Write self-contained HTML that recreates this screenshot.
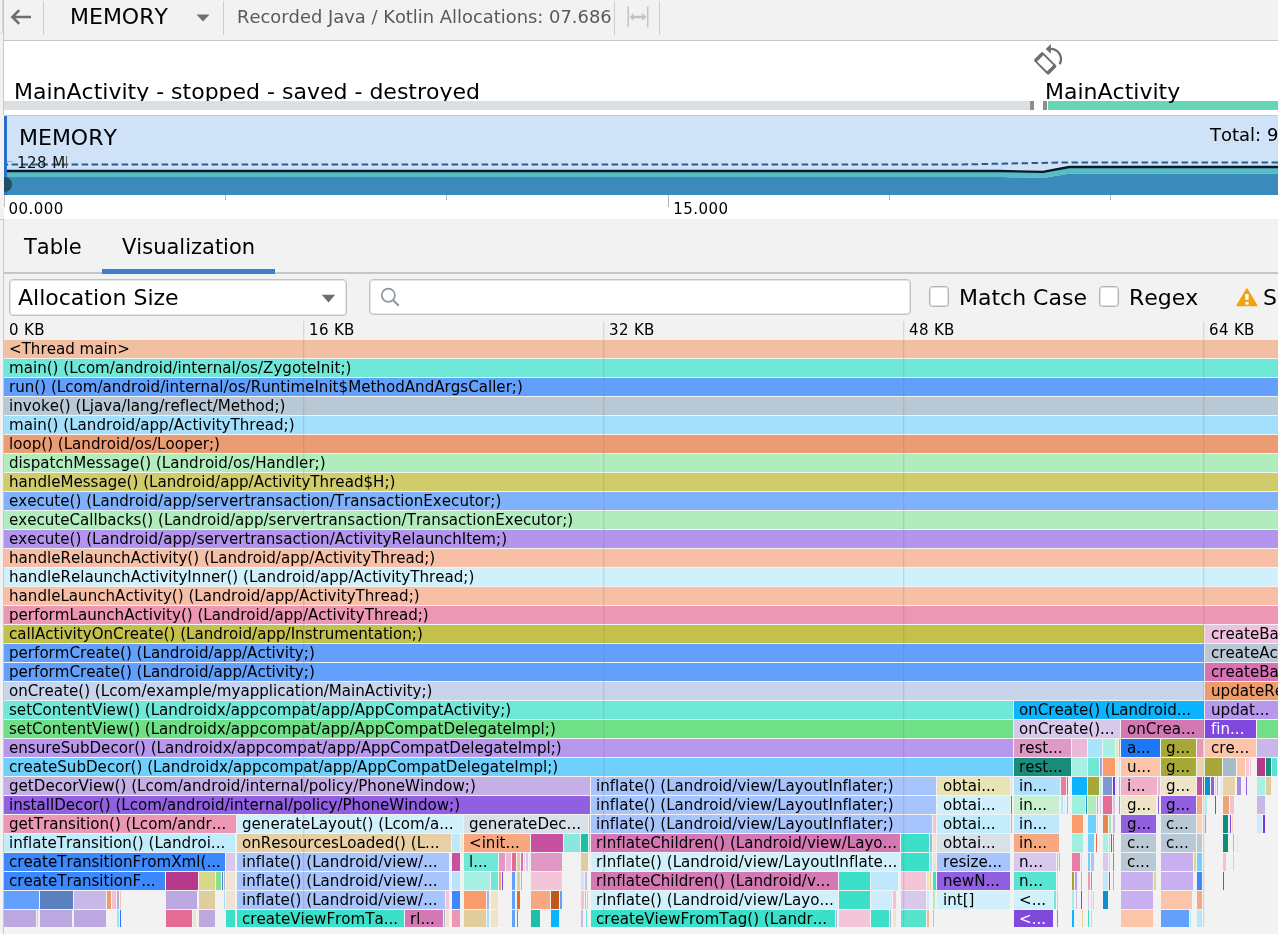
<!DOCTYPE html>
<html><head><meta charset="utf-8"><title>Memory Profiler</title>
<style>
html,body{margin:0;padding:0;}
body{width:1278px;height:934px;overflow:hidden;background:#f2f2f2;position:relative;font-family:"DejaVu Sans","Liberation Sans",sans-serif;color:#000;font-kerning:none;font-variant-ligatures:none;}
.a{position:absolute;}
.t{position:absolute;white-space:nowrap;line-height:1;}
.f22{font-size:22px;}
.f18{font-size:18px;}
.f15{font-size:15px;letter-spacing:0.35px;}
#flame{position:absolute;left:0;top:340px;width:1278px;height:587px;overflow:hidden;}
.b{position:absolute;height:18px;overflow:hidden;white-space:nowrap;font-size:15.1px;line-height:18px;box-sizing:border-box;padding-left:5px;}
.g{position:absolute;top:321px;width:2px;height:606px;background:linear-gradient(to right,rgba(120,120,120,0.22) 50%,rgba(120,120,120,0.07) 50%);}
.m{position:absolute;top:321px;width:1px;height:1px;background:#d8d8d8;}
</style></head><body>

<!-- left gutter -->
<div class="a" style="left:0;top:0;width:4px;height:934px;background:#f2f2f2"></div>
<div class="a" style="left:-2px;top:-4px;width:3px;height:36px;border:1px solid #d4d4d4;border-radius:3px;"></div>
<div class="a" style="left:3px;top:0;width:1px;height:115px;background:#c8c8c8"></div>
<div class="a" style="left:3px;top:219px;width:1px;height:715px;background:#c8c8c8"></div>
<div class="a" style="left:0;top:219px;width:3px;height:1px;background:#cccccc"></div>
<!-- toolbar -->
<div class="a" style="left:4px;top:40px;width:1274px;height:1px;background:#c6c6c6"></div>
<svg class="a" style="left:10px;top:8px" width="24" height="18" viewBox="0 0 24 18"><path d="M21 9H3.5M9.2 2.2L2.4 9l6.8 6.8" fill="none" stroke="#6e6e6e" stroke-width="2.6" stroke-linejoin="miter"/></svg>
<div class="a" style="left:43px;top:1px;width:1px;height:34px;background:#cdcdcd"></div>
<div class="t f22" style="left:70px;top:6px;">MEMORY</div>
<svg class="a" style="left:196px;top:14px" width="14" height="8" viewBox="0 0 14 8"><path d="M0.5 0.5h13L7 7.5z" fill="#6e6e6e"/></svg>
<div class="a" style="left:223px;top:1px;width:1px;height:34px;background:#cdcdcd"></div>
<div class="t" style="font-size:17.9px;left:237px;top:8px;color:#595959">Recorded Java / Kotlin Allocations: 07.686</div>
<div class="a" style="left:614px;top:1px;width:1px;height:34px;background:#cdcdcd"></div>
<svg class="a" style="left:626px;top:6px" width="24" height="22" viewBox="0 0 24 22"><path d="M2.2 0.3v21M21.7 0.3v21" stroke="#c6c6c6" stroke-width="1.6" fill="none"/><path d="M6 11h12" stroke="#c2c2c2" stroke-width="2.6" fill="none"/><path d="M3.8 11l3.9-4v8zM20.3 11l-3.9-4v8z" fill="#c2c2c2"/></svg>
<div class="a" style="left:659px;top:1px;width:1px;height:34px;background:#cdcdcd"></div>
<!-- activity strip -->
<div class="a" style="left:4px;top:41px;width:1274px;height:74px;background:#fff"></div>
<div class="t f22" style="left:14px;top:81px;">MainActivity - stopped - saved - destroyed</div>
<div class="a" style="left:4px;top:101px;width:1026px;height:9px;background:#dcdfe2"></div>
<div class="a" style="left:1030px;top:101px;width:4px;height:9px;background:#8e8e8e"></div>
<div class="a" style="left:1043px;top:101px;width:4px;height:9px;background:#8e8e8e"></div>
<div class="a" style="left:1048px;top:101px;width:230px;height:9px;background:#66d5b6"></div>
<div class="t f22" style="left:1045px;top:81px;">MainActivity</div>
<svg class="a" style="left:1030px;top:42px" width="36" height="36" viewBox="0 0 36 36"><g transform="translate(15.2 21.3) rotate(-45)"><path fill-rule="evenodd" fill="#6e6e6e" d="M-6.3 -8.7a1.8 1.8 0 0 1 1.8-1.8h9a1.8 1.8 0 0 1 1.8 1.8v17.4a1.8 1.8 0 0 1-1.8 1.8h-9a1.8 1.8 0 0 1-1.8-1.8zM-4.4 -7h8.8v14h-8.8z"/></g><path d="M20.7 6.9A10.3 10.3 0 0 1 29.6 22.3" fill="none" stroke="#6e6e6e" stroke-width="2.3"/><path d="M15.7 6.9l5.2-4.8v9.6z" fill="#6e6e6e"/></svg>
<!-- memory chart -->
<div class="a" style="left:4px;top:115px;width:1274px;height:1px;background:#c8c8c8"></div>
<div class="a" style="left:4px;top:116px;width:1274px;height:79px;background:#cfe2f7"></div>
<svg class="a" style="left:4px;top:116px" width="1274" height="79" viewBox="4 116 1274 79">
<path d="M4 177H1000L1043 178L1069 173.8H1278V195H4z" fill="#3a8abb"/>
<path d="M4 171H1000L1043 172L1069 167.5H1278V173.8H1069L1043 178L1000 177H4z" fill="#58bcc4"/>
<path d="M4 171H1000L1043 171.8L1069 167H1278" fill="none" stroke="#06182c" stroke-width="2.3"/>
<path d="M1.6 164.5H960L1066 162.4H1278" fill="none" stroke="#22608a" stroke-width="2" stroke-dasharray="6.5 3.5"/>
<rect x="4" y="116" width="3" height="79" fill="#2a70c8"/>
<circle cx="4.6" cy="184.4" r="7.5" fill="#1e4f66"/>
<path d="M7 161.5h6" stroke="#a4acb4" stroke-width="1"/>
<path d="M66.5 156v12" stroke="#6b5a50" stroke-width="1"/>
</svg>
<div class="t f22" style="left:19px;top:127px;">MEMORY</div>
<div class="t f15" style="left:17px;top:156px;letter-spacing:0.45px;color:#111">128 M</div>
<div class="t f18" style="left:1210px;top:126px;">Total: 9</div>
<!-- time axis -->
<div class="a" style="left:4px;top:195px;width:1274px;height:24px;background:#fff"></div>
<div class="a" style="left:4px;top:195px;width:1px;height:12px;background:#c0c0c0"></div>
<div class="a" style="left:225px;top:195px;width:1px;height:5px;background:#b4b4b4"></div>
<div class="a" style="left:446px;top:195px;width:1px;height:5px;background:#b4b4b4"></div>
<div class="a" style="left:668px;top:195px;width:1px;height:12px;background:#b4b4b4"></div>
<div class="a" style="left:889px;top:195px;width:1px;height:5px;background:#b4b4b4"></div>
<div class="a" style="left:1110px;top:195px;width:1px;height:5px;background:#b4b4b4"></div>
<div class="t f15" style="left:8.6px;top:202px;letter-spacing:0.45px;">00.000</div>
<div class="t f15" style="left:673.2px;top:202px;letter-spacing:0.45px;">15.000</div>
<!-- tabs -->
<div class="t" style="font-size:21px;left:24px;top:237px;">Table</div>
<div class="t" style="font-size:21px;left:122px;top:237px;">Visualization</div>
<div class="a" style="left:4px;top:272px;width:1274px;height:2px;background:#c6c6c6"></div>
<div class="a" style="left:102px;top:269px;width:173px;height:5px;background:#3d7fcf"></div>
<!-- filter row -->
<div class="a" style="left:9px;top:279px;width:336px;height:35px;background:#fff;border:1px solid #c2c2c2;box-shadow:inset 0 0 0 1px rgba(190,190,190,0.4);border-radius:4px;"></div>
<div class="t f22" style="left:18px;top:287px;">Allocation Size</div>
<svg class="a" style="left:321px;top:294px" width="15" height="9" viewBox="0 0 15 9"><path d="M0.8 0.8h13.4L7.5 8.4z" fill="#6e6e6e"/></svg>
<div class="a" style="left:369px;top:279px;width:540px;height:34px;background:#fff;border:1px solid #c2c2c2;box-shadow:inset 0 0 0 1px rgba(190,190,190,0.4);border-radius:4px;"></div>
<svg class="a" style="left:379px;top:286px" width="22" height="22" viewBox="0 0 22 22"><circle cx="9.3" cy="9.3" r="6.6" fill="none" stroke="#8b9aa2" stroke-width="1.7"/><path d="M14.2 14.2l5.6 5.6" stroke="#8b9aa2" stroke-width="2.2"/></svg>
<div class="a" style="left:929px;top:286px;width:18px;height:19px;background:#fff;border:1px solid #b2b2b2;box-shadow:inset 0 0 0 1px rgba(170,170,170,0.35);border-radius:3.5px;"></div>
<div class="t f22" style="left:959px;top:287px;">Match Case</div>
<div class="a" style="left:1099px;top:286px;width:18px;height:19px;background:#fff;border:1px solid #b2b2b2;box-shadow:inset 0 0 0 1px rgba(170,170,170,0.35);border-radius:3.5px;"></div>
<div class="t f22" style="left:1129px;top:287px;">Regex</div>
<svg class="a" style="left:1235px;top:287px" width="24" height="21" viewBox="0 0 24 21"><path d="M11.9 1.8L21.9 18.6H1.9z" fill="#f0a30c" stroke="#f0a30c" stroke-width="1.2" stroke-linejoin="round"/><rect x="10.3" y="7" width="3.3" height="5.8" fill="#fff"/><rect x="10.3" y="14.9" width="3.3" height="2.7" fill="#fff"/></svg>
<div class="t f22" style="left:1263px;top:287px;">S</div>
<!-- size axis -->
<div class="t f15" style="left:9px;top:323px;">0 KB</div>
<div class="t f15" style="left:309px;top:323px;">16 KB</div>
<div class="t f15" style="left:609px;top:323px;">32 KB</div>
<div class="t f15" style="left:909px;top:323px;">48 KB</div>
<div class="t f15" style="left:1209px;top:323px;">64 KB</div>

<div id="flame">
<div class="b" style="left:4px;top:0px;width:1274px;background:#f2bfa2;">&lt;Thread main&gt;</div>
<div class="b" style="left:4px;top:19px;width:1274px;background:#70e8d8;">main() (Lcom/android/internal/os/ZygoteInit;)</div>
<div class="b" style="left:4px;top:38px;width:1274px;background:#62a0fc;">run() (Lcom/android/internal/os/RuntimeInit$MethodAndArgsCaller;)</div>
<div class="b" style="left:4px;top:57px;width:1274px;background:#b8c8d4;">invoke() (Ljava/lang/reflect/Method;)</div>
<div class="b" style="left:4px;top:76px;width:1274px;background:#a4e0fc;">main() (Landroid/app/ActivityThread;)</div>
<div class="b" style="left:4px;top:95px;width:1274px;background:#ec9c74;">loop() (Landroid/os/Looper;)</div>
<div class="b" style="left:4px;top:114px;width:1274px;background:#b0ecbc;">dispatchMessage() (Landroid/os/Handler;)</div>
<div class="b" style="left:4px;top:133px;width:1274px;background:#d0cc6c;">handleMessage() (Landroid/app/ActivityThread$H;)</div>
<div class="b" style="left:4px;top:152px;width:1274px;background:#80b2fc;">execute() (Landroid/app/servertransaction/TransactionExecutor;)</div>
<div class="b" style="left:4px;top:171px;width:1274px;background:#b0ecbc;">executeCallbacks() (Landroid/app/servertransaction/TransactionExecutor;)</div>
<div class="b" style="left:4px;top:190px;width:1274px;background:#b494ec;">execute() (Landroid/app/servertransaction/ActivityRelaunchItem;)</div>
<div class="b" style="left:4px;top:209px;width:1274px;background:#f6bfa6;">handleRelaunchActivity() (Landroid/app/ActivityThread;)</div>
<div class="b" style="left:4px;top:228px;width:1274px;background:#d0f0fc;">handleRelaunchActivityInner() (Landroid/app/ActivityThread;)</div>
<div class="b" style="left:4px;top:247px;width:1274px;background:#f6bfa6;">handleLaunchActivity() (Landroid/app/ActivityThread;)</div>
<div class="b" style="left:4px;top:266px;width:1274px;background:#ec98b4;">performLaunchActivity() (Landroid/app/ActivityThread;)</div>
<div class="b" style="left:4px;top:285px;width:1200px;background:#c4c04c;">callActivityOnCreate() (Landroid/app/Instrumentation;)</div>
<div class="b" style="left:1205px;top:285px;width:73px;background:#efc0df;padding-left:6px;">createBa</div>
<div class="b" style="left:4px;top:304px;width:1200px;background:#62a0fc;">performCreate() (Landroid/app/Activity;)</div>
<div class="b" style="left:1205px;top:304px;width:73px;background:#b8c8d4;padding-left:6px;">createAct</div>
<div class="b" style="left:4px;top:323px;width:1200px;background:#62a0fc;">performCreate() (Landroid/app/Activity;)</div>
<div class="b" style="left:1205px;top:323px;width:73px;background:#d872b4;padding-left:6px;">createBa</div>
<div class="b" style="left:4px;top:342px;width:1200px;background:#c8d4ec;">onCreate() (Lcom/example/myapplication/MainActivity;)</div>
<div class="b" style="left:1205px;top:342px;width:73px;background:#ee9c6c;padding-left:6px;">updateRe</div>
<div class="b" style="left:4px;top:361px;width:1009px;background:#70e8d8;">setContentView() (Landroidx/appcompat/app/AppCompatActivity;)</div>
<div class="b" style="left:1014px;top:361px;width:190px;background:#0bb4fc;">onCreate() (Landroid...</div>
<div class="b" style="left:1205px;top:361px;width:73px;background:#b898ec;padding-left:6px;">updat...</div>
<div class="b" style="left:4px;top:380px;width:1009px;background:#70e088;">setContentView() (Landroidx/appcompat/app/AppCompatDelegateImpl;)</div>
<div class="b" style="left:1014px;top:380px;width:106px;background:#d8c8ec;">onCreate()...</div>
<div class="b" style="left:1121px;top:380px;width:83px;background:#d478b4;padding-left:6px;">onCrea...</div>
<div class="b" style="left:1205px;top:380px;width:51px;background:#8048dc;color:#fff;padding-left:6px;">fin...</div>
<div class="b" style="left:1257px;top:380px;width:21px;background:#70e088;padding:0;"></div>
<div class="b" style="left:4px;top:399px;width:1009px;background:#b898ec;">ensureSubDecor() (Landroidx/appcompat/app/AppCompatDelegateImpl;)</div>
<div class="b" style="left:1014px;top:399px;width:57px;background:#e098c4;">rest...</div>
<div class="b" style="left:1072px;top:399px;width:15px;background:#ecb8d8;padding:0;"></div>
<div class="b" style="left:1088px;top:399px;width:14px;background:#a8e4fc;padding:0;"></div>
<div class="b" style="left:1103px;top:399px;width:12px;background:#a8f0e4;padding:0;"></div>
<div class="b" style="left:1116px;top:399px;width:2px;background:#e8e4b4;padding:0;"></div>
<div class="b" style="left:1119px;top:399px;width:1px;background:#f0a47c;padding:0;"></div>
<div class="b" style="left:1121px;top:399px;width:39px;background:#1c78f4;padding-left:6px;">a...</div>
<div class="b" style="left:1161px;top:399px;width:35px;background:#a8a838;">g...</div>
<div class="b" style="left:1197px;top:399px;width:6px;background:#ec98b4;padding:0;"></div>
<div class="b" style="left:1205px;top:399px;width:51px;background:#fcc4a8;padding-left:6px;">cre...</div>
<div class="b" style="left:1257px;top:399px;width:21px;background:#c8b8e8;padding:0;"></div>
<div class="b" style="left:4px;top:418px;width:1009px;background:#70d0fc;">createSubDecor() (Landroidx/appcompat/app/AppCompatDelegateImpl;)</div>
<div class="b" style="left:1014px;top:418px;width:57px;background:#1a8c7c;">rest...</div>
<div class="b" style="left:1072px;top:418px;width:15px;background:#a8f0e4;padding:0;"></div>
<div class="b" style="left:1088px;top:418px;width:11px;background:#70e8d4;padding:0;"></div>
<div class="b" style="left:1100px;top:418px;width:2px;background:#b898ec;padding:0;"></div>
<div class="b" style="left:1103px;top:418px;width:12px;background:#f89c6c;padding:0;"></div>
<div class="b" style="left:1116px;top:418px;width:2px;background:#f0e8c8;padding:0;"></div>
<div class="b" style="left:1119px;top:418px;width:1px;background:#c0e8fc;padding:0;"></div>
<div class="b" style="left:1121px;top:418px;width:39px;background:#fcc4a8;padding-left:6px;">u...</div>
<div class="b" style="left:1161px;top:418px;width:35px;background:#a8a838;">g...</div>
<div class="b" style="left:1197px;top:418px;width:6px;background:#e8d4a8;padding:0;"></div>
<div class="b" style="left:1205px;top:418px;width:17px;background:#a8a838;padding:0;"></div>
<div class="b" style="left:1223px;top:418px;width:13px;background:#a8bcc8;padding:0;"></div>
<div class="b" style="left:1237px;top:418px;width:8px;background:#fcc4a8;padding:0;"></div>
<div class="b" style="left:1246px;top:418px;width:3px;background:#f4c8d8;padding:0;"></div>
<div class="b" style="left:1250px;top:418px;width:1px;background:#f4c0d4;padding:0;"></div>
<div class="b" style="left:1257px;top:418px;width:8px;background:#b8388c;padding:0;"></div>
<div class="b" style="left:1266px;top:418px;width:5px;background:#1a8c7c;padding:0;"></div>
<div class="b" style="left:1272px;top:418px;width:5px;background:#58e4d0;padding:0;"></div>
<div class="b" style="left:4px;top:437px;width:586px;background:#c4b0e4;">getDecorView() (Lcom/android/internal/policy/PhoneWindow;)</div>
<div class="b" style="left:591px;top:437px;width:345px;background:#a8c4fc;">inflate() (Landroid/view/LayoutInflater;)</div>
<div class="b" style="left:937px;top:437px;width:73px;background:#e8e4b4;padding-left:6px;">obtai...</div>
<div class="b" style="left:1011px;top:437px;width:1px;background:#dcdcec;padding:0;"></div>
<div class="b" style="left:1014px;top:437px;width:46px;background:#b0e0fc;">in...</div>
<div class="b" style="left:1061px;top:437px;width:5px;background:#e87ca4;padding:0;"></div>
<div class="b" style="left:1067px;top:437px;width:1px;background:#0bb4fc;padding:0;"></div>
<div class="b" style="left:1072px;top:437px;width:15px;background:#0bb4fc;padding:0;"></div>
<div class="b" style="left:1088px;top:437px;width:11px;background:#a8a838;padding:0;"></div>
<div class="b" style="left:1100px;top:437px;width:1px;background:#a8f0e4;padding:0;"></div>
<div class="b" style="left:1103px;top:437px;width:9px;background:#8098d0;padding:0;"></div>
<div class="b" style="left:1113px;top:437px;width:2px;background:#7038dc;padding:0;"></div>
<div class="b" style="left:1116px;top:437px;width:1px;background:#e0e0e8;padding:0;"></div>
<div class="b" style="left:1119px;top:437px;width:1px;background:#f0a47c;padding:0;"></div>
<div class="b" style="left:1121px;top:437px;width:36px;background:#f0b0c8;padding-left:6px;">i...</div>
<div class="b" style="left:1158px;top:437px;width:2px;background:#ecb8d8;padding:0;"></div>
<div class="b" style="left:1161px;top:437px;width:35px;background:#f0e4c8;">g...</div>
<div class="b" style="left:1197px;top:437px;width:5px;background:#c850a0;padding:0;"></div>
<div class="b" style="left:1203px;top:437px;width:1px;background:#c05818;padding:0;"></div>
<div class="b" style="left:1205px;top:437px;width:5px;background:#0c90d0;padding:0;"></div>
<div class="b" style="left:1211px;top:437px;width:3px;background:#9060e0;padding:0;"></div>
<div class="b" style="left:1215px;top:437px;width:1px;background:#fcd0b8;padding:0;"></div>
<div class="b" style="left:1217px;top:437px;width:1px;background:#a8b4d8;padding:0;"></div>
<div class="b" style="left:1221px;top:437px;width:1px;background:#c8ecfc;padding:0;"></div>
<div class="b" style="left:1223px;top:437px;width:12px;background:#e4d4a8;padding:0;"></div>
<div class="b" style="left:1237px;top:437px;width:4px;background:#a88cdc;padding:0;"></div>
<div class="b" style="left:1246px;top:437px;width:1px;background:#9060e0;padding:0;"></div>
<div class="b" style="left:1257px;top:437px;width:8px;background:#a8f0e4;padding:0;"></div>
<div class="b" style="left:1266px;top:437px;width:5px;background:#e0cc9c;padding:0;"></div>
<div class="b" style="left:4px;top:456px;width:586px;background:#9060e0;">installDecor() (Lcom/android/internal/policy/PhoneWindow;)</div>
<div class="b" style="left:591px;top:456px;width:345px;background:#a8c4fc;">inflate() (Landroid/view/LayoutInflater;)</div>
<div class="b" style="left:937px;top:456px;width:73px;background:#d0f0fc;padding-left:6px;">obtai...</div>
<div class="b" style="left:1011px;top:456px;width:1px;background:#9060e0;padding:0;"></div>
<div class="b" style="left:1014px;top:456px;width:45px;background:#c8f0d0;">in...</div>
<div class="b" style="left:1061px;top:456px;width:2px;background:#b8e4fc;padding:0;"></div>
<div class="b" style="left:1064px;top:456px;width:1px;background:#d8ecfc;padding:0;"></div>
<div class="b" style="left:1067px;top:456px;width:1px;background:#f0a47c;padding:0;"></div>
<div class="b" style="left:1072px;top:456px;width:13px;background:#a0f0e0;padding:0;"></div>
<div class="b" style="left:1086px;top:456px;width:1px;background:#1c98c8;padding:0;"></div>
<div class="b" style="left:1088px;top:456px;width:8px;background:#b0ecbc;padding:0;"></div>
<div class="b" style="left:1097px;top:456px;width:1px;background:#ec98b4;padding:0;"></div>
<div class="b" style="left:1100px;top:456px;width:1px;background:#d8c8ec;padding:0;"></div>
<div class="b" style="left:1103px;top:456px;width:9px;background:#e46c94;padding:0;"></div>
<div class="b" style="left:1113px;top:456px;width:2px;background:#d8c8ec;padding:0;"></div>
<div class="b" style="left:1119px;top:456px;width:1px;background:#3cd8b8;padding:0;"></div>
<div class="b" style="left:1121px;top:456px;width:35px;background:#f0e4c8;padding-left:6px;">g...</div>
<div class="b" style="left:1158px;top:456px;width:1px;background:#9060e0;padding:0;"></div>
<div class="b" style="left:1161px;top:456px;width:35px;background:#9060e0;">g...</div>
<div class="b" style="left:1197px;top:456px;width:5px;background:#f8a880;padding:0;"></div>
<div class="b" style="left:1205px;top:456px;width:2px;background:#a8f0e4;padding:0;"></div>
<div class="b" style="left:1215px;top:456px;width:1px;background:#8048dc;padding:0;"></div>
<div class="b" style="left:1223px;top:456px;width:6px;background:#eca478;padding:0;"></div>
<div class="b" style="left:1230px;top:456px;width:4px;background:#f4c0d4;padding:0;"></div>
<div class="b" style="left:1257px;top:456px;width:8px;background:#c8b8e8;padding:0;"></div>
<div class="b" style="left:4px;top:475px;width:232px;background:#ec98b4;">getTransition() (Lcom/andr...</div>
<div class="b" style="left:237px;top:475px;width:226px;background:#d0f0fc;">generateLayout() (Lcom/a...</div>
<div class="b" style="left:464px;top:475px;width:124px;background:#d8e0e8;">generateDec...</div>
<div class="b" style="left:589px;top:475px;width:1px;background:#d4c864;padding:0;"></div>
<div class="b" style="left:591px;top:475px;width:341px;background:#a8c4fc;">inflate() (Landroid/view/LayoutInflater;)</div>
<div class="b" style="left:933px;top:475px;width:3px;background:#f4c0d4;padding:0;"></div>
<div class="b" style="left:937px;top:475px;width:73px;background:#c0ecfc;padding-left:6px;">obtai...</div>
<div class="b" style="left:1011px;top:475px;width:1px;background:#f0a47c;padding:0;"></div>
<div class="b" style="left:1014px;top:475px;width:45px;background:#c0e8fc;">in...</div>
<div class="b" style="left:1072px;top:475px;width:11px;background:#f89c6c;padding:0;"></div>
<div class="b" style="left:1088px;top:475px;width:8px;background:#70d0fc;padding:0;"></div>
<div class="b" style="left:1097px;top:475px;width:1px;background:#d8e0e8;padding:0;"></div>
<div class="b" style="left:1103px;top:475px;width:5px;background:#e88450;padding:0;"></div>
<div class="b" style="left:1109px;top:475px;width:2px;background:#a0e8a8;padding:0;"></div>
<div class="b" style="left:1113px;top:475px;width:2px;background:#c8b8e8;padding:0;"></div>
<div class="b" style="left:1121px;top:475px;width:35px;background:#9060e0;padding-left:6px;">g...</div>
<div class="b" style="left:1161px;top:475px;width:35px;background:#b8c8d4;">c...</div>
<div class="b" style="left:1197px;top:475px;width:5px;background:#fcd0b8;padding:0;"></div>
<div class="b" style="left:1205px;top:475px;width:1px;background:#74a8f8;padding:0;"></div>
<div class="b" style="left:1223px;top:475px;width:5px;background:#108c7c;padding:0;"></div>
<div class="b" style="left:1230px;top:475px;width:1px;background:#8048dc;padding:0;"></div>
<div class="b" style="left:1232px;top:475px;width:1px;background:#fcd0b8;padding:0;"></div>
<div class="b" style="left:1257px;top:475px;width:5px;background:#c8ecfc;padding:0;"></div>
<div class="b" style="left:1263px;top:475px;width:2px;background:#7038dc;padding:0;"></div>
<div class="b" style="left:4px;top:494px;width:231px;background:#c0ecfc;">inflateTransition() (Landroi...</div>
<div class="b" style="left:237px;top:494px;width:214px;background:#e8d0a4;">onResourcesLoaded() (L...</div>
<div class="b" style="left:452px;top:494px;width:8px;background:#c0e8fc;padding:0;"></div>
<div class="b" style="left:461px;top:494px;width:2px;background:#f0e4c8;padding:0;"></div>
<div class="b" style="left:464px;top:494px;width:66px;background:#f8a880;">&lt;init...</div>
<div class="b" style="left:531px;top:494px;width:32px;background:#c850a0;padding:0;"></div>
<div class="b" style="left:564px;top:494px;width:16px;background:#88e8dc;padding:0;"></div>
<div class="b" style="left:581px;top:494px;width:7px;background:#1cc0a8;padding:0;"></div>
<div class="b" style="left:589px;top:494px;width:1px;background:#d4c864;padding:0;"></div>
<div class="b" style="left:591px;top:494px;width:309px;background:#d478b4;">rInflateChildren() (Landroid/view/Layo...</div>
<div class="b" style="left:901px;top:494px;width:28px;background:#3ce0c8;padding:0;"></div>
<div class="b" style="left:930px;top:494px;width:2px;background:#a8b4d8;padding:0;"></div>
<div class="b" style="left:933px;top:494px;width:3px;background:#f0e4c8;padding:0;"></div>
<div class="b" style="left:937px;top:494px;width:73px;background:#d8e0e8;padding-left:6px;">obtai...</div>
<div class="b" style="left:1014px;top:494px;width:45px;background:#f8a880;">in...</div>
<div class="b" style="left:1072px;top:494px;width:11px;background:#a0f0e0;padding:0;"></div>
<div class="b" style="left:1088px;top:494px;width:6px;background:#70d0fc;padding:0;"></div>
<div class="b" style="left:1096px;top:494px;width:1px;background:#e07040;padding:0;"></div>
<div class="b" style="left:1103px;top:494px;width:5px;background:#a8f0e4;padding:0;"></div>
<div class="b" style="left:1109px;top:494px;width:1px;background:#f4c0d4;padding:0;"></div>
<div class="b" style="left:1111px;top:494px;width:1px;background:#2c78f0;padding:0;"></div>
<div class="b" style="left:1113px;top:494px;width:1px;background:#8098c8;padding:0;"></div>
<div class="b" style="left:1121px;top:494px;width:35px;background:#b8c8d4;padding-left:6px;">c...</div>
<div class="b" style="left:1161px;top:494px;width:35px;background:#b8c8d4;">c...</div>
<div class="b" style="left:1197px;top:494px;width:5px;background:#b8c8d4;padding:0;"></div>
<div class="b" style="left:1223px;top:494px;width:5px;background:#108c7c;padding:0;"></div>
<div class="b" style="left:1233px;top:494px;width:1px;background:#f0a47c;padding:0;"></div>
<div class="b" style="left:1237px;top:494px;width:1px;background:#f0e4c8;padding:0;"></div>
<div class="b" style="left:4px;top:513px;width:221px;background:#3c88fc;">createTransitionFromXml(...</div>
<div class="b" style="left:226px;top:513px;width:9px;background:#d8c8ec;padding:0;"></div>
<div class="b" style="left:237px;top:513px;width:212px;background:#a8c4fc;">inflate() (Landroid/view/...</div>
<div class="b" style="left:452px;top:513px;width:8px;background:#c850a0;padding:0;"></div>
<div class="b" style="left:464px;top:513px;width:34px;background:#70e8d8;">l...</div>
<div class="b" style="left:499px;top:513px;width:6px;background:#e098c4;padding:0;"></div>
<div class="b" style="left:506px;top:513px;width:5px;background:#ecb8d8;padding:0;"></div>
<div class="b" style="left:512px;top:513px;width:4px;background:#e46c94;padding:0;"></div>
<div class="b" style="left:517px;top:513px;width:3px;background:#e0cc9c;padding:0;"></div>
<div class="b" style="left:521px;top:513px;width:2px;background:#d070b8;padding:0;"></div>
<div class="b" style="left:524px;top:513px;width:1px;background:#f4c8d8;padding:0;"></div>
<div class="b" style="left:526px;top:513px;width:2px;background:#d8c8ec;padding:0;"></div>
<div class="b" style="left:529px;top:513px;width:1px;background:#f0e8d8;padding:0;"></div>
<div class="b" style="left:531px;top:513px;width:31px;background:#e098c4;padding:0;"></div>
<div class="b" style="left:581px;top:513px;width:7px;background:#e0cc9c;padding:0;"></div>
<div class="b" style="left:591px;top:513px;width:309px;background:#d0f0fc;">rInflate() (Landroid/view/LayoutInflate...</div>
<div class="b" style="left:901px;top:513px;width:28px;background:#3ce0c8;padding:0;"></div>
<div class="b" style="left:930px;top:513px;width:2px;background:#a4e0fc;padding:0;"></div>
<div class="b" style="left:933px;top:513px;width:3px;background:#f0e4c8;padding:0;"></div>
<div class="b" style="left:937px;top:513px;width:73px;background:#a8c4fc;padding-left:6px;">resize...</div>
<div class="b" style="left:1014px;top:513px;width:42px;background:#d8c8ec;">n...</div>
<div class="b" style="left:1057px;top:513px;width:1px;background:#b8c8d4;padding:0;"></div>
<div class="b" style="left:1059px;top:513px;width:1px;background:#88e094;padding:0;"></div>
<div class="b" style="left:1072px;top:513px;width:8px;background:#e87ca4;padding:0;"></div>
<div class="b" style="left:1081px;top:513px;width:1px;background:#fcd0b8;padding:0;"></div>
<div class="b" style="left:1088px;top:513px;width:2px;background:#70d0fc;padding:0;"></div>
<div class="b" style="left:1091px;top:513px;width:3px;background:#a8c4fc;padding:0;"></div>
<div class="b" style="left:1103px;top:513px;width:5px;background:#d8c8ec;padding:0;"></div>
<div class="b" style="left:1109px;top:513px;width:1px;background:#f4c0d4;padding:0;"></div>
<div class="b" style="left:1113px;top:513px;width:1px;background:#0bb4fc;padding:0;"></div>
<div class="b" style="left:1121px;top:513px;width:35px;background:#b8c8d4;padding-left:6px;">c...</div>
<div class="b" style="left:1161px;top:513px;width:32px;background:#c8b0f0;padding:0;"></div>
<div class="b" style="left:1194px;top:513px;width:2px;background:#d8d888;padding:0;"></div>
<div class="b" style="left:1197px;top:513px;width:5px;background:#70d0fc;padding:0;"></div>
<div class="b" style="left:1223px;top:513px;width:3px;background:#f4c0d4;padding:0;"></div>
<div class="b" style="left:1233px;top:513px;width:1px;background:#d8c8ec;padding:0;"></div>
<div class="b" style="left:4px;top:532px;width:161px;background:#3c88fc;">createTransitionF...</div>
<div class="b" style="left:166px;top:532px;width:32px;background:#b8388c;padding:0;"></div>
<div class="b" style="left:199px;top:532px;width:16px;background:#d8d888;padding:0;"></div>
<div class="b" style="left:216px;top:532px;width:5px;background:#88e094;padding:0;"></div>
<div class="b" style="left:222px;top:532px;width:1px;background:#5080d0;padding:0;"></div>
<div class="b" style="left:224px;top:532px;width:1px;background:#a8b4d8;padding:0;"></div>
<div class="b" style="left:226px;top:532px;width:9px;background:#f0e4d0;padding:0;"></div>
<div class="b" style="left:237px;top:532px;width:212px;background:#a8c4fc;">inflate() (Landroid/view/...</div>
<div class="b" style="left:452px;top:532px;width:8px;background:#b8e4fc;padding:0;"></div>
<div class="b" style="left:464px;top:532px;width:26px;background:#a8f0e4;padding:0;"></div>
<div class="b" style="left:491px;top:532px;width:7px;background:#70e8d8;padding:0;"></div>
<div class="b" style="left:499px;top:532px;width:2px;background:#f0a47c;padding:0;"></div>
<div class="b" style="left:502px;top:532px;width:1px;background:#8048dc;padding:0;"></div>
<div class="b" style="left:512px;top:532px;width:3px;background:#62a0fc;padding:0;"></div>
<div class="b" style="left:517px;top:532px;width:3px;background:#e0cc9c;padding:0;"></div>
<div class="b" style="left:521px;top:532px;width:1px;background:#a8b8c8;padding:0;"></div>
<div class="b" style="left:531px;top:532px;width:31px;background:#f4c4d8;padding:0;"></div>
<div class="b" style="left:581px;top:532px;width:3px;background:#c8e8fc;padding:0;"></div>
<div class="b" style="left:585px;top:532px;width:2px;background:#c8b8e8;padding:0;"></div>
<div class="b" style="left:591px;top:532px;width:247px;background:#d478b4;">rInflateChildren() (Landroid/v...</div>
<div class="b" style="left:839px;top:532px;width:31px;background:#3ce0c8;padding:0;"></div>
<div class="b" style="left:871px;top:532px;width:27px;background:#c0e8fc;padding:0;"></div>
<div class="b" style="left:901px;top:532px;width:25px;background:#f4c4d8;padding:0;"></div>
<div class="b" style="left:927px;top:532px;width:2px;background:#f0e4b0;padding:0;"></div>
<div class="b" style="left:930px;top:532px;width:1px;background:#e0cc9c;padding:0;"></div>
<div class="b" style="left:933px;top:532px;width:3px;background:#3ce0c8;padding:0;"></div>
<div class="b" style="left:937px;top:532px;width:73px;background:#9060e0;padding-left:6px;">newN...</div>
<div class="b" style="left:1014px;top:532px;width:42px;background:#58e4d0;">n...</div>
<div class="b" style="left:1057px;top:532px;width:1px;background:#d8e0e8;padding:0;"></div>
<div class="b" style="left:1072px;top:532px;width:2px;background:#a8a030;padding:0;"></div>
<div class="b" style="left:1075px;top:532px;width:2px;background:#b898ec;padding:0;"></div>
<div class="b" style="left:1081px;top:532px;width:1px;background:#f0a47c;padding:0;"></div>
<div class="b" style="left:1088px;top:532px;width:2px;background:#ec98b4;padding:0;"></div>
<div class="b" style="left:1091px;top:532px;width:1px;background:#e88450;padding:0;"></div>
<div class="b" style="left:1103px;top:532px;width:5px;background:#c0e8fc;padding:0;"></div>
<div class="b" style="left:1109px;top:532px;width:1px;background:#2c78f0;padding:0;"></div>
<div class="b" style="left:1113px;top:532px;width:1px;background:#f0a47c;padding:0;"></div>
<div class="b" style="left:1121px;top:532px;width:32px;background:#c8b0f0;padding:0;"></div>
<div class="b" style="left:1154px;top:532px;width:2px;background:#d8d888;padding:0;"></div>
<div class="b" style="left:1161px;top:532px;width:32px;background:#c8b0f0;padding:0;"></div>
<div class="b" style="left:1197px;top:532px;width:5px;background:#3c88fc;padding:0;"></div>
<div class="b" style="left:1223px;top:532px;width:1px;background:#8048dc;padding:0;"></div>
<div class="b" style="left:4px;top:551px;width:35px;background:#62a0fc;padding:0;"></div>
<div class="b" style="left:40px;top:551px;width:33px;background:#5a80c0;padding:0;"></div>
<div class="b" style="left:74px;top:551px;width:32px;background:#c8b8e8;padding:0;"></div>
<div class="b" style="left:107px;top:551px;width:4px;background:#ec9c74;padding:0;"></div>
<div class="b" style="left:112px;top:551px;width:4px;background:#f4c0d4;padding:0;"></div>
<div class="b" style="left:117px;top:551px;width:2px;background:#a8b4d8;padding:0;"></div>
<div class="b" style="left:120px;top:551px;width:1px;background:#f8c4ac;padding:0;"></div>
<div class="b" style="left:166px;top:551px;width:31px;background:#bca8e0;padding:0;"></div>
<div class="b" style="left:199px;top:551px;width:16px;background:#e0cc9c;padding:0;"></div>
<div class="b" style="left:224px;top:551px;width:1px;background:#a4e0fc;padding:0;"></div>
<div class="b" style="left:226px;top:551px;width:9px;background:#f0e4d0;padding:0;"></div>
<div class="b" style="left:237px;top:551px;width:208px;background:#a8c4fc;">inflate() (Landroid/view/...</div>
<div class="b" style="left:446px;top:551px;width:3px;background:#f4c0d4;padding:0;"></div>
<div class="b" style="left:452px;top:551px;width:8px;background:#3c88fc;padding:0;"></div>
<div class="b" style="left:464px;top:551px;width:22px;background:#f89c6c;padding:0;"></div>
<div class="b" style="left:487px;top:551px;width:2px;background:#a8b4d8;padding:0;"></div>
<div class="b" style="left:491px;top:551px;width:7px;background:#f0e4c8;padding:0;"></div>
<div class="b" style="left:512px;top:551px;width:3px;background:#62a0fc;padding:0;"></div>
<div class="b" style="left:517px;top:551px;width:3px;background:#e06c24;padding:0;"></div>
<div class="b" style="left:531px;top:551px;width:19px;background:#f8a880;padding:0;"></div>
<div class="b" style="left:551px;top:551px;width:8px;background:#c05818;padding:0;"></div>
<div class="b" style="left:560px;top:551px;width:2px;background:#62a0fc;padding:0;"></div>
<div class="b" style="left:581px;top:551px;width:3px;background:#f4c0d4;padding:0;"></div>
<div class="b" style="left:585px;top:551px;width:1px;background:#c8b8e8;padding:0;"></div>
<div class="b" style="left:587px;top:551px;width:1px;background:#d8d888;padding:0;"></div>
<div class="b" style="left:591px;top:551px;width:247px;background:#d0f0fc;">rInflate() (Landroid/view/Layo...</div>
<div class="b" style="left:839px;top:551px;width:31px;background:#3ce0c8;padding:0;"></div>
<div class="b" style="left:871px;top:551px;width:21px;background:#d0ecfc;padding:0;"></div>
<div class="b" style="left:893px;top:551px;width:3px;background:#f4c0d4;padding:0;"></div>
<div class="b" style="left:901px;top:551px;width:25px;background:#d8c8ec;padding:0;"></div>
<div class="b" style="left:927px;top:551px;width:2px;background:#c8ecfc;padding:0;"></div>
<div class="b" style="left:933px;top:551px;width:2px;background:#b0ecbc;padding:0;"></div>
<div class="b" style="left:937px;top:551px;width:73px;background:#d0f0fc;padding-left:6px;">int[]</div>
<div class="b" style="left:1014px;top:551px;width:39px;background:#d0f0fc;">&lt;...</div>
<div class="b" style="left:1054px;top:551px;width:2px;background:#70e8d8;padding:0;"></div>
<div class="b" style="left:1057px;top:551px;width:1px;background:#f8c4ac;padding:0;"></div>
<div class="b" style="left:1072px;top:551px;width:2px;background:#a0f0e0;padding:0;"></div>
<div class="b" style="left:1076px;top:551px;width:1px;background:#c8b8e8;padding:0;"></div>
<div class="b" style="left:1081px;top:551px;width:1px;background:#8048dc;padding:0;"></div>
<div class="b" style="left:1088px;top:551px;width:1px;background:#d8c8ec;padding:0;"></div>
<div class="b" style="left:1091px;top:551px;width:1px;background:#a8f0e4;padding:0;"></div>
<div class="b" style="left:1093px;top:551px;width:1px;background:#f4c0d4;padding:0;"></div>
<div class="b" style="left:1103px;top:551px;width:5px;background:#0c90d0;padding:0;"></div>
<div class="b" style="left:1121px;top:551px;width:32px;background:#c8b0f0;padding:0;"></div>
<div class="b" style="left:1161px;top:551px;width:31px;background:#fcc4a8;padding:0;"></div>
<div class="b" style="left:1197px;top:551px;width:5px;background:#f8a880;padding:0;"></div>
<div class="b" style="left:4px;top:570px;width:32px;background:#bca8e0;padding:0;"></div>
<div class="b" style="left:37px;top:570px;width:1px;background:#f8c4ac;padding:0;"></div>
<div class="b" style="left:40px;top:570px;width:32px;background:#bca8e0;padding:0;"></div>
<div class="b" style="left:74px;top:570px;width:32px;background:#bca8e0;padding:0;"></div>
<div class="b" style="left:117px;top:570px;width:2px;background:#a4e0fc;padding:0;"></div>
<div class="b" style="left:120px;top:570px;width:1px;background:#2c78f0;padding:0;"></div>
<div class="b" style="left:166px;top:570px;width:26px;background:#e46c94;padding:0;"></div>
<div class="b" style="left:193px;top:570px;width:3px;background:#f0e4c8;padding:0;"></div>
<div class="b" style="left:199px;top:570px;width:16px;background:#bca8e0;padding:0;"></div>
<div class="b" style="left:226px;top:570px;width:9px;background:#3ce0c8;padding:0;"></div>
<div class="b" style="left:237px;top:570px;width:167px;background:#3ce0c8;">createViewFromTa...</div>
<div class="b" style="left:405px;top:570px;width:38px;background:#d478b4;">rl...</div>
<div class="b" style="left:444px;top:570px;width:1px;background:#a8b4d8;padding:0;"></div>
<div class="b" style="left:446px;top:570px;width:3px;background:#f0e4d0;padding:0;"></div>
<div class="b" style="left:452px;top:570px;width:8px;background:#ec98b4;padding:0;"></div>
<div class="b" style="left:464px;top:570px;width:22px;background:#e0cc9c;padding:0;"></div>
<div class="b" style="left:487px;top:570px;width:2px;background:#a4e0fc;padding:0;"></div>
<div class="b" style="left:491px;top:570px;width:7px;background:#f0e4c8;padding:0;"></div>
<div class="b" style="left:512px;top:570px;width:3px;background:#62a0fc;padding:0;"></div>
<div class="b" style="left:517px;top:570px;width:1px;background:#e06c24;padding:0;"></div>
<div class="b" style="left:531px;top:570px;width:9px;background:#1cc0a8;padding:0;"></div>
<div class="b" style="left:551px;top:570px;width:8px;background:#0bb4fc;padding:0;"></div>
<div class="b" style="left:581px;top:570px;width:2px;background:#c8b8e8;padding:0;"></div>
<div class="b" style="left:586px;top:570px;width:1px;background:#70e8d8;padding:0;"></div>
<div class="b" style="left:591px;top:570px;width:244px;background:#3ce0c8;">createViewFromTag() (Landr...</div>
<div class="b" style="left:836px;top:570px;width:1px;background:#a8b4d8;padding:0;"></div>
<div class="b" style="left:839px;top:570px;width:31px;background:#f4c4d8;padding:0;"></div>
<div class="b" style="left:871px;top:570px;width:18px;background:#3ce0c8;padding:0;"></div>
<div class="b" style="left:890px;top:570px;width:1px;background:#a8b4d8;padding:0;"></div>
<div class="b" style="left:893px;top:570px;width:3px;background:#f0e4c8;padding:0;"></div>
<div class="b" style="left:901px;top:570px;width:25px;background:#58e4cc;padding:0;"></div>
<div class="b" style="left:927px;top:570px;width:2px;background:#f4b898;padding:0;"></div>
<div class="b" style="left:933px;top:570px;width:1px;background:#70e8d8;padding:0;"></div>
<div class="b" style="left:1014px;top:570px;width:39px;background:#8048dc;color:#fff;">&lt;...</div>
<div class="b" style="left:1057px;top:570px;width:1px;background:#d070b8;padding:0;"></div>
<div class="b" style="left:1072px;top:570px;width:2px;background:#0bb4fc;padding:0;"></div>
<div class="b" style="left:1082px;top:570px;width:1px;background:#e8d0a4;padding:0;"></div>
<div class="b" style="left:1088px;top:570px;width:1px;background:#3cd8b8;padding:0;"></div>
<div class="b" style="left:1091px;top:570px;width:1px;background:#d8c8ec;padding:0;"></div>
<div class="b" style="left:1121px;top:570px;width:32px;background:#fcc4a8;padding:0;"></div>
<div class="b" style="left:1161px;top:570px;width:28px;background:#62a0fc;padding:0;"></div>
<div class="b" style="left:1190px;top:570px;width:1px;background:#a8f0e4;padding:0;"></div>
<div class="b" style="left:1197px;top:570px;width:5px;background:#b8e4fc;padding:0;"></div>
</div>
<div class="m" style="left:78px"></div>
<div class="m" style="left:153px"></div>
<div class="m" style="left:228px"></div>
<div class="m" style="left:378px"></div>
<div class="m" style="left:453px"></div>
<div class="m" style="left:528px"></div>
<div class="m" style="left:678px"></div>
<div class="m" style="left:753px"></div>
<div class="m" style="left:828px"></div>
<div class="m" style="left:978px"></div>
<div class="m" style="left:1053px"></div>
<div class="m" style="left:1128px"></div>
<div class="g" style="left:303px"></div>
<div class="g" style="left:603px"></div>
<div class="g" style="left:903px"></div>
<div class="g" style="left:1203px"></div>
<div class="a" style="left:4px;top:927px;width:1274px;height:7px;background:#f4f4f4"></div>
</body></html>
